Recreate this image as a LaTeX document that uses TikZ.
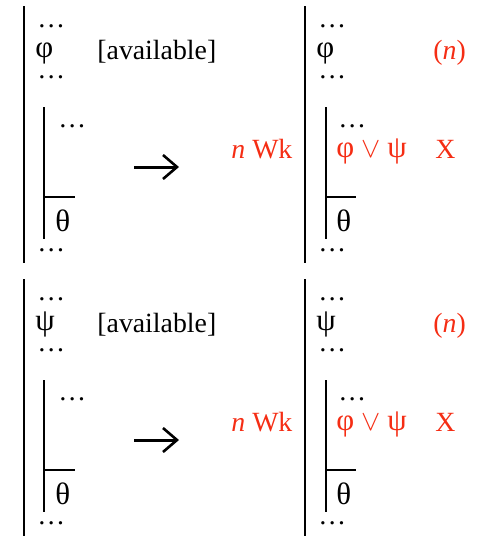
\documentclass[tikz,border=0pt]{standalone}
\usepackage{fontspec}
\setmainfont{Liberation Serif}
\usepackage{tikz}
\usetikzlibrary{arrows.meta}
\definecolor{rulered}{RGB}{245,45,20}
\newcommand{\gk}[1]{{\fontsize{15.5}{16}\selectfont #1}}
\tikzset{
  proofbar/.style={
    draw=black,
    line width=1pt,
  },
  subbar/.style={
    draw=black,
    line width=0.85pt,
  },
  formula/.style={
    anchor=base west,
    inner sep=0pt,
    font=\fontsize{13.9}{16}\selectfont,
  },
  annot/.style={
    formula,
    text=rulered,
  },
  rulearrow/.style={
    draw=black,
    line width=1.5pt,
    -{Straight Barb[length=7pt,width=12pt,line width=1.3pt]},
  }
}

\begin{document}
\begin{tikzpicture}[x=0.5pt,y=-0.5pt]
    \useasboundingbox (0,0) rectangle (477,536);

    \foreach \dy/\lt/\p in {0/φ/a, 273/ψ/b} {
      % left-hand proof
      \coordinate (lbartop-\p) at (24, 6+\dy);
      \coordinate (lbarbot-\p) at (24, 263+\dy);
      \node [formula] (ldotsA-\p) at (37,  27+\dy) {…};
      \node [formula] (lprem-\p)  at (35,  57+\dy) {\gk{\lt}};
      \node [formula] (avail-\p)  at (97,  59+\dy) {[available]};
      \node [formula] (ldotsB-\p) at (37,  78+\dy) {…};
      \coordinate (lsubtop-\p) at (44, 107+\dy);
      \coordinate (lsubbot-\p) at (44, 239+\dy);
      \coordinate (lsubend-\p) at (75, 197+\dy);
      \node [formula] (ldotsC-\p) at (58, 127+\dy) {…};
      \node [formula] (ltheta-\p) at (55, 231+\dy) {\gk{θ}};
      \node [formula] (ldotsD-\p) at (37, 251+\dy) {…};

      \draw [proofbar] (lbartop-\p) -- (lbarbot-\p);
      \draw [subbar] (lsubtop-\p) -- (lsubbot-\p);
      \draw [subbar] (lsubtop-\p |- lsubend-\p) -- (lsubend-\p);

      % the step
      \coordinate (arrfrom-\p) at (134, 167+\dy);
      \coordinate (arrto-\p)   at (179, 167+\dy);
      \draw [rulearrow] (arrfrom-\p) -- (arrto-\p);
      \node [annot] (weak-\p) at (231, 158+\dy) {\textit{n} Wk};

      % right-hand proof
      \coordinate (rbartop-\p) at (305, 6+\dy);
      \coordinate (rbarbot-\p) at (305, 263+\dy);
      \node [formula] (rdotsA-\p) at (318,  27+\dy) {…};
      \node [formula] (rprem-\p)  at (316,  57+\dy) {\gk{\lt}};
      \node [annot]   (line-\p)   at (433,  59+\dy) {(\textit{n})};
      \node [formula] (rdotsB-\p) at (318,  78+\dy) {…};
      \coordinate (rsubtop-\p) at (326, 107+\dy);
      \coordinate (rsubbot-\p) at (326, 239+\dy);
      \coordinate (rsubend-\p) at (356, 197+\dy);
      \node [formula] (rdotsC-\p) at (338, 127+\dy) {…};
      \node [annot]   (disj-\p)   at (336, 157+\dy) {\gk{φ} $\vee$ \gk{ψ}};
      \node [annot]   (mark-\p)   at (435, 158+\dy) {X};
      \node [formula] (rtheta-\p) at (336, 231+\dy) {\gk{θ}};
      \node [formula] (rdotsD-\p) at (318, 251+\dy) {…};

      \draw [proofbar] (rbartop-\p) -- (rbarbot-\p);
      \draw [subbar] (rsubtop-\p) -- (rsubbot-\p);
      \draw [subbar] (rsubtop-\p |- rsubend-\p) -- (rsubend-\p);
    }
  \end{tikzpicture}
\end{document}
